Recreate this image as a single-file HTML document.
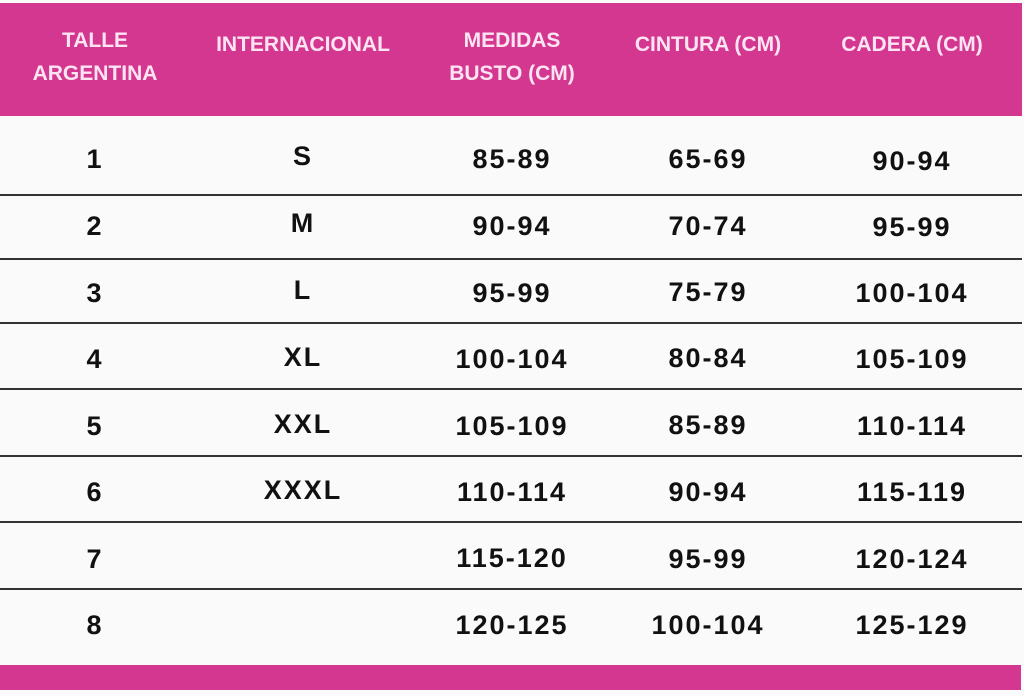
<!DOCTYPE html>
<html><head><style>
body{margin:0;width:1024px;height:696px;background:#fafafa;position:relative;overflow:hidden;font-family:"Liberation Sans",sans-serif;}
.hdr{position:absolute;left:0;top:3px;width:1022px;height:113px;background:#d4378f;}
.ftr{position:absolute;left:0;top:665px;width:1021px;height:25px;background:#d4378f;}
.h{position:absolute;color:#fde4f3;font-weight:bold;font-size:21px;line-height:33px;text-align:center;width:240px;margin-left:-120px;}
.c{position:absolute;font-weight:bold;font-size:27px;letter-spacing:2px;color:#111;text-align:center;width:200px;margin-left:-100px;line-height:30px;}
.l{position:absolute;left:0;width:1022px;height:2px;background:#333;}
</style></head><body>
<div class="hdr"></div>
<div class="h" style="left:95px;top:24px">TALLE<br>ARGENTINA</div>
<div class="h" style="left:303px;top:28px">INTERNACIONAL</div>
<div class="h" style="left:512px;top:24px">MEDIDAS<br>BUSTO (CM)</div>
<div class="h" style="left:708px;top:28px">CINTURA (CM)</div>
<div class="h" style="left:912px;top:28px">CADERA (CM)</div>
<div class="l" style="top:194px"></div>
<div class="l" style="top:258px"></div>
<div class="l" style="top:322px"></div>
<div class="l" style="top:388px"></div>
<div class="l" style="top:455px"></div>
<div class="l" style="top:521px"></div>
<div class="l" style="top:588px"></div>
<div class="ftr"></div>

<div class="c" style="left:95px;top:144px">1</div><div class="c" style="left:303px;top:141px">S</div><div class="c" style="left:512px;top:144px">85-89</div><div class="c" style="left:708px;top:144px">65-69</div><div class="c" style="left:912px;top:146px">90-94</div>
<div class="c" style="left:95px;top:211px">2</div><div class="c" style="left:303px;top:208px">M</div><div class="c" style="left:512px;top:211px">90-94</div><div class="c" style="left:708px;top:211px">70-74</div><div class="c" style="left:912px;top:212px">95-99</div>
<div class="c" style="left:95px;top:278px">3</div><div class="c" style="left:303px;top:275px">L</div><div class="c" style="left:512px;top:278px">95-99</div><div class="c" style="left:708px;top:277px">75-79</div><div class="c" style="left:912px;top:278px">100-104</div>
<div class="c" style="left:95px;top:344px">4</div><div class="c" style="left:303px;top:342px">XL</div><div class="c" style="left:512px;top:344px">100-104</div><div class="c" style="left:708px;top:343px">80-84</div><div class="c" style="left:912px;top:344px">105-109</div>
<div class="c" style="left:95px;top:411px">5</div><div class="c" style="left:303px;top:409px">XXL</div><div class="c" style="left:512px;top:411px">105-109</div><div class="c" style="left:708px;top:410px">85-89</div><div class="c" style="left:912px;top:411px">110-114</div>
<div class="c" style="left:95px;top:477px">6</div><div class="c" style="left:303px;top:475px">XXXL</div><div class="c" style="left:512px;top:477px">110-114</div><div class="c" style="left:708px;top:477px">90-94</div><div class="c" style="left:912px;top:477px">115-119</div>
<div class="c" style="left:95px;top:544px">7</div><div class="c" style="left:512px;top:543px">115-120</div><div class="c" style="left:708px;top:544px">95-99</div><div class="c" style="left:912px;top:544px">120-124</div>
<div class="c" style="left:95px;top:610px">8</div><div class="c" style="left:512px;top:610px">120-125</div><div class="c" style="left:708px;top:610px">100-104</div><div class="c" style="left:912px;top:610px">125-129</div>
</body></html>
